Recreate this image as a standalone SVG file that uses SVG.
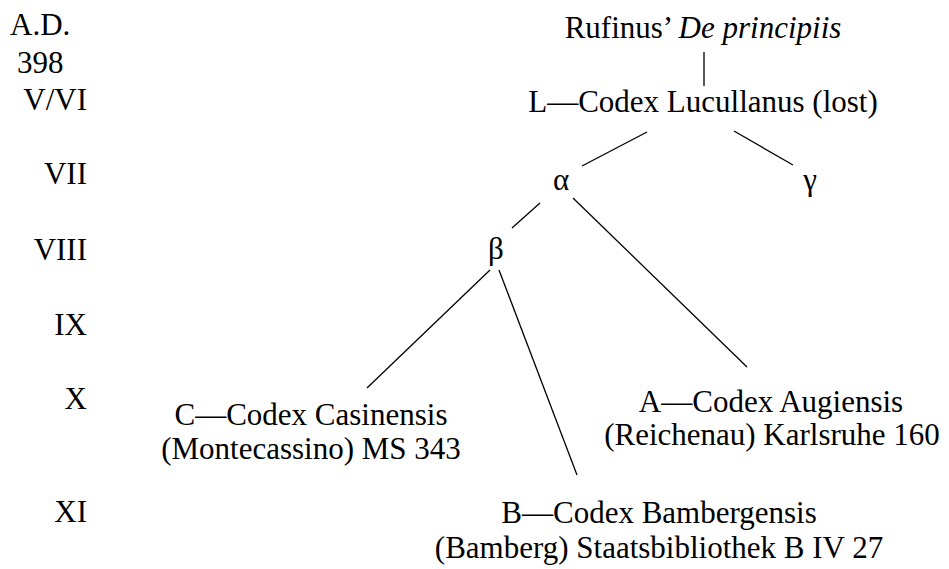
<svg xmlns="http://www.w3.org/2000/svg" width="949" height="569" viewBox="0 0 949 569">
<style>
text{font-family:"Liberation Serif","Times New Roman",serif;font-size:31px;fill:#000}
.c{text-anchor:middle}
.r{text-anchor:end}
#connectors line{stroke:#000;stroke-width:1.3}
</style>
<rect width="949" height="569" fill="#fff"/>
<g id="timeline">
<text x="10" y="35">A.D.</text>
<text x="17" y="73">398</text>
<text class="r" x="87" y="110">V/VI</text>
<text class="r" x="87" y="184">VII</text>
<text class="r" x="87" y="260">VIII</text>
<text class="r" x="87" y="335">IX</text>
<text class="r" x="87" y="409">X</text>
<text class="r" x="87" y="522">XI</text>
</g>
<g id="rufinus"><text class="c" x="703" y="38">Rufinus’ <tspan font-style="italic">De principiis</tspan></text></g>
<g id="L"><text class="c" x="703" y="112">L—Codex Lucullanus (lost)</text></g>
<g id="alpha"><text class="c" x="561" y="190">α</text></g>
<g id="gamma"><text class="c" x="810" y="190">γ</text></g>
<g id="beta"><text class="c" x="496" y="259">β</text></g>
<g id="C"><text class="c" x="311" y="425">C—Codex Casinensis</text><text class="c" x="311" y="459">(Montecassino) MS 343</text></g>
<g id="A"><text class="c" x="771" y="412">A—Codex Augiensis</text><text class="c" x="772" y="445">(Reichenau) Karlsruhe 160</text></g>
<g id="B"><text class="c" x="659" y="523">B—Codex Bambergensis</text><text class="c" x="659" y="558">(Bamberg) Staatsbibliothek B IV 27</text></g>
<g id="connectors">
<line x1="704" y1="52" x2="704" y2="86"/>
<line x1="647" y1="132" x2="582" y2="166"/>
<line x1="734" y1="131" x2="793" y2="165"/>
<line x1="540" y1="203" x2="512" y2="228"/>
<line x1="573" y1="198" x2="747" y2="367"/>
<line x1="490" y1="270" x2="367" y2="388"/>
<line x1="499" y1="270" x2="577" y2="475"/>
</g>
</svg>
